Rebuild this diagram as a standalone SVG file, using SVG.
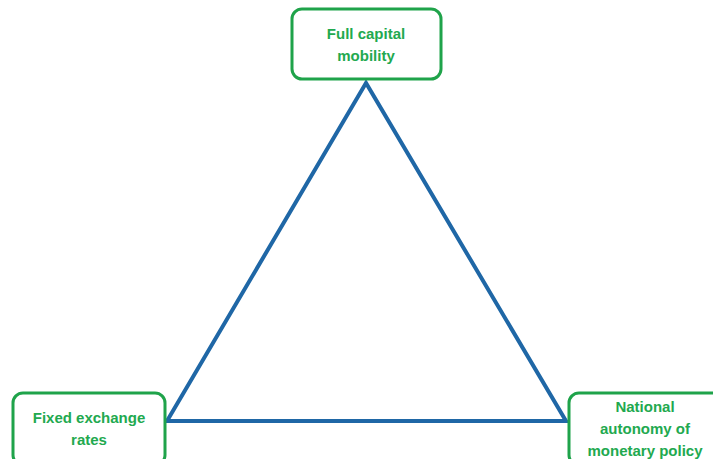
<svg xmlns="http://www.w3.org/2000/svg" width="713" height="459" viewBox="0 0 713 459">
<style>
.box{fill:#fff;stroke:#1fa34a;stroke-width:3}
.t{font-family:"Liberation Sans",Arial,sans-serif;font-weight:bold;font-size:15px;fill:#22a94f;text-anchor:middle}
.edge{fill:none;stroke:#1f67a6;stroke-width:4;stroke-linejoin:miter}
</style>
<rect width="713" height="459" fill="#fff"/>
<g id="connectors">
<polygon class="edge" points="366,83 167,421 566,421"/>
</g>
<g id="node-top">
<rect class="box" x="292" y="9" width="149" height="70" rx="10"/>
<text class="t" x="366" y="39">Full capital</text>
<text class="t" x="366" y="61">mobility</text>
</g>
<g id="node-left">
<rect class="box" x="13" y="393" width="152" height="72" rx="10"/>
<text class="t" x="89" y="423">Fixed exchange</text>
<text class="t" x="89" y="445">rates</text>
</g>
<g id="node-right">
<rect class="box" x="569" y="393" width="160" height="72" rx="10"/>
<text class="t" x="645" y="412">National</text>
<text class="t" x="645" y="434">autonomy of</text>
<text class="t" x="645" y="456">monetary policy</text>
</g>
</svg>
